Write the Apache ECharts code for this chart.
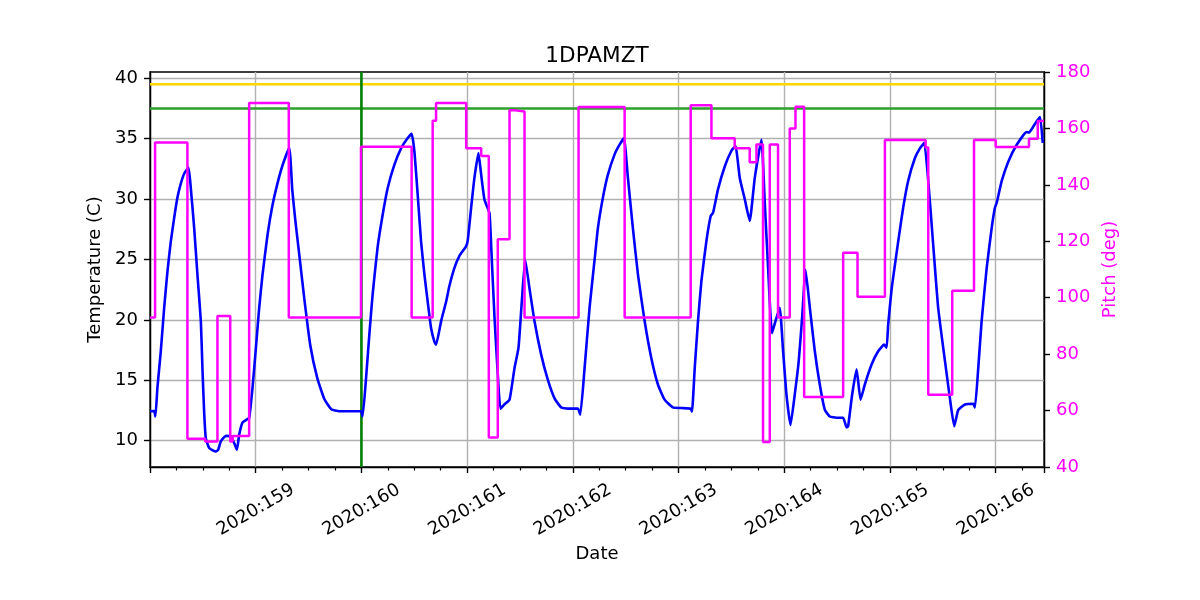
<!DOCTYPE html>
<html>
<head>
<meta charset="utf-8">
<script src="https://cdn.jsdelivr.net/npm/echarts@6/dist/echarts.min.js"></script>
<style>html,body{margin:0;padding:0;background:#fff}#chart{width:1200px;height:600px}</style>
</head>
<body>
<div id="chart"></div>
<script>
// ---- data (day of year 2020, fractional) ----
const tempDay = [158.000,158.039,158.051,158.070,158.102,158.134,158.165,158.197,158.228,158.259,158.292,158.323,158.364,158.386,158.418,158.449,158.481,158.496,158.512,158.528,158.560,158.623,158.645,158.670,158.718,158.765,158.796,158.822,158.844,158.875,158.907,158.938,158.970,159.002,159.033,159.064,159.112,159.159,159.206,159.254,159.317,159.346,159.374,159.412,159.459,159.516,159.582,159.649,159.715,159.791,159.996,160.011,160.044,160.075,160.106,160.153,160.201,160.248,160.312,160.375,160.438,160.475,160.501,160.532,160.564,160.596,160.627,160.659,160.690,160.706,160.754,160.801,160.832,160.880,160.927,160.991,161.006,161.038,161.069,161.107,161.133,161.164,161.211,161.227,161.259,161.290,161.315,161.353,161.401,161.448,161.486,161.517,161.549,161.590,161.637,161.701,161.763,161.827,161.890,161.953,162.047,162.070,162.111,162.158,162.206,162.237,162.284,162.331,162.395,162.442,162.483,162.521,162.568,162.616,162.679,162.742,162.805,162.868,162.947,163.027,163.115,163.127,163.153,163.184,163.216,163.263,163.304,163.326,163.373,163.437,163.500,163.538,163.579,163.626,163.673,163.721,163.784,163.815,163.847,163.884,163.917,163.957,163.989,164.021,164.059,164.099,164.137,164.169,164.201,164.242,164.289,164.336,164.384,164.431,164.494,164.557,164.589,164.604,164.642,164.684,164.722,164.762,164.826,164.888,164.945,164.968,164.983,165.015,165.046,165.078,165.125,165.172,165.236,165.283,165.324,165.362,165.409,165.456,165.520,165.567,165.608,165.646,165.709,165.788,165.804,165.835,165.867,165.915,165.962,165.993,166.010,166.057,166.119,166.199,166.294,166.315,166.356,166.388,166.420,166.445];
const tempC = [12.43,12.45,12.0,14.36,17.4,21.0,24.0,26.5,28.4,30.1,31.3,32.1,32.6,30.9,27.6,23.7,19.9,16.0,12.4,10.2,9.4,9.1,9.25,9.95,10.4,10.35,9.8,9.25,10.5,11.5,11.7,11.9,14.4,17.7,21.0,23.7,27.05,29.5,31.3,32.8,34.25,30.75,28.3,25.4,21.8,17.9,15.2,13.45,12.6,12.43,12.43,12.0,15.2,18.8,22.1,26.0,28.7,30.9,32.85,34.2,35.05,35.4,33.95,30.4,26.5,23.75,21.5,19.3,18.2,17.95,19.9,21.5,22.8,24.3,25.3,26.1,26.6,29.3,31.75,33.8,32.0,29.95,28.85,26.2,20.2,15.5,12.65,13.0,13.4,16.0,17.7,21.5,25.0,22.6,19.9,17.1,15.05,13.5,12.75,12.65,12.65,12.15,16.0,21.0,25.0,27.6,30.1,32.0,33.7,34.5,35.05,31.75,27.6,23.75,19.9,16.85,14.65,13.4,12.75,12.7,12.65,12.4,16.0,19.9,23.2,26.5,28.6,28.85,30.8,32.7,34.0,34.4,31.75,30.0,28.2,31.75,34.9,29.8,24.3,18.9,19.9,21.0,17.4,13.8,11.3,13.8,16.6,20.2,24.15,21.0,17.4,14.65,12.55,12.0,11.9,11.9,11.1,11.2,13.8,15.9,13.4,14.65,16.3,17.4,17.95,17.7,19.6,22.5,24.5,26.5,29.3,31.5,33.4,34.2,34.65,31.5,26.2,21.0,16.6,13.5,11.2,12.55,13.0,13.05,12.75,16.0,19.9,24.3,27.6,29.3,29.7,31.5,33.1,34.5,35.55,35.5,36.0,36.45,36.8,34.65];

const pitchDay = [158.000,158.048,158.354,158.522,158.638,158.759,158.782,158.938,159.313,159.996,160.475,160.674,160.706,160.991,161.133,161.205,161.290,161.401,161.457,161.543,162.054,162.490,163.115,163.311,163.531,163.673,163.737,163.799,163.863,163.941,164.052,164.106,164.188,164.557,164.693,164.952,165.337,165.362,165.589,165.795,166.000,166.315,166.398,166.457];
const pitchDeg = [93,155,50,49,93.5,49,51,169,93,153.5,93,162.7,169,153,150.2,50.5,120.7,166.4,166,93,167.6,93,168.2,156.5,153,148,154.3,48.9,154.3,93,160,167.7,64.8,115.9,100.3,155.9,153.2,65.6,102.5,155.9,153.4,156.3,162.6,162.6];

const tempTicks = [10, 15, 20, 25, 30, 35, 40];
const xMin = 158, xMax = 166.457;
const tMin = 7.82, tMax = 40.52;
const pitchMin = 40, pitchMax = 180, pitchStep = 20;
const yellowLimit = 39.5;
const greenLimit = 37.5;
const markerDay = 160;

const FONT = 'DejaVu Sans';
const toPairs = (xs, ys) => xs.map((x, i) => [x, ys[i]]);

const chart = echarts.init(document.getElementById('chart'), null, {renderer: 'canvas'});
const lineBase = {type: 'line', showSymbol: false, symbol: 'none', silent: true, animation: false};

chart.setOption({
  animation: false,
  backgroundColor: '#fff',
  title: {
    text: '1DPAMZT', left: 592, top: 40, textAlign: 'center',
    textStyle: {fontFamily: FONT, fontSize: 21.6, fontWeight: 'normal', color: '#000'}
  },
  grid: {left: 150, right: 156, top: 72, bottom: 133, show: true, borderColor: '#000', borderWidth: 1.4, backgroundColor: 'transparent'},
  xAxis: {
    type: 'value', min: xMin, max: xMax, interval: 1,
    name: 'Date', nameLocation: 'middle', nameGap: 78,
    nameTextStyle: {fontFamily: FONT, fontSize: 18, color: '#000'},
    axisLine: {show: true, lineStyle: {color: '#000', width: 1.4}},
    axisTick: {show: true, length: 6, lineStyle: {color: '#000', width: 1.4}},
    minorTick: {show: true, splitNumber: 4, length: 3.5, lineStyle: {color: '#000', width: 1.2}},
    splitLine: {show: true, lineStyle: {color: '#b0b0b0', width: 1.4}},
    axisLabel: {
      rotate: 30, align: 'center', verticalAlign: 'middle', margin: 43,
      showMinLabel: false, showMaxLabel: false,
      fontFamily: FONT, fontSize: 18, color: '#000',
      formatter: v => '2020:' + Math.round(v)
    }
  },
  yAxis: [
    {
      type: 'value', min: tMin, max: tMax, splitNumber: 6, position: 'left',
      name: 'Temperature (C)', nameLocation: 'middle', nameGap: 41.5,
      nameTextStyle: {fontFamily: FONT, fontSize: 18, color: '#000'},
      axisLine: {show: true, lineStyle: {color: '#000', width: 1.4}},
      axisTick: {show: true, length: 6, customValues: tempTicks, lineStyle: {color: '#000', width: 1.4}},
      splitLine: {show: true, lineStyle: {color: '#b0b0b0', width: 1.4}},
      axisLabel: {customValues: tempTicks, margin: 12, fontFamily: FONT, fontSize: 18, color: '#000',
                  formatter: v => String(Math.round(v))}
    },
    {
      type: 'value', min: pitchMin, max: pitchMax, interval: pitchStep, position: 'right',
      name: 'Pitch (deg)', nameLocation: 'middle', nameGap: 45.5,
      nameTextStyle: {fontFamily: FONT, fontSize: 18, color: '#ff00ff'},
      axisLine: {show: true, lineStyle: {color: '#000', width: 1.4}},
      axisTick: {show: true, length: 6, lineStyle: {color: '#000', width: 1.4}},
      splitLine: {show: false},
      axisLabel: {margin: 12, fontFamily: FONT, fontSize: 18, color: '#ff00ff'}
    }
  ],
  series: [
    Object.assign({}, lineBase, {name: 'yellow', z: 1, data: [[xMin, yellowLimit], [xMax, yellowLimit]],
      lineStyle: {color: '#ffd700', width: 2.6}}),
    Object.assign({}, lineBase, {name: 'green', z: 1, data: [[xMin, greenLimit], [xMax, greenLimit]],
      lineStyle: {color: '#2ca02c', width: 2.6}}),
    Object.assign({}, lineBase, {name: 'marker', z: 1, data: [[markerDay, tMin], [markerDay, tMax]],
      lineStyle: {color: '#008000', width: 2.6}}),
    Object.assign({}, lineBase, {name: 'Temperature', z: 3, yAxisIndex: 0, data: toPairs(tempDay, tempC),
      smooth: 0.15,
      lineStyle: {color: '#0000ff', width: 2.6}}),
    Object.assign({}, lineBase, {name: 'Pitch', z: 4, yAxisIndex: 1, step: 'end', data: toPairs(pitchDay, pitchDeg),
      lineStyle: {color: '#ff00ff', width: 2.5}})
  ]
});
</script>
</body>
</html>
